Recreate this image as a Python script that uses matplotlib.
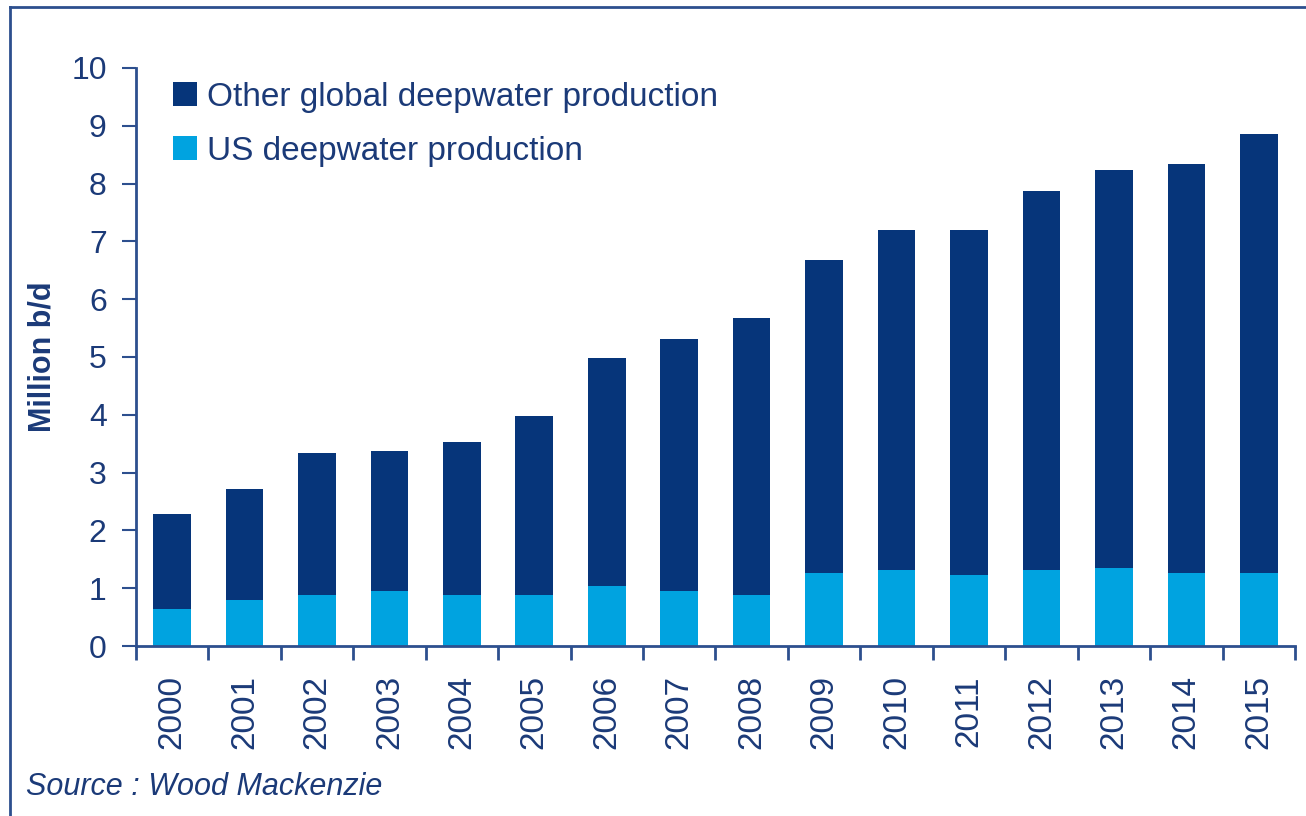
import matplotlib.pyplot as plt
from matplotlib.lines import Line2D
import numpy as np

years = ['2000', '2001', '2002', '2003', '2004', '2005', '2006', '2007',
         '2008', '2009', '2010', '2011', '2012', '2013', '2014', '2015']
us_prod = [0.64, 0.80, 0.88, 0.95, 0.88, 0.88, 1.04, 0.95,
           0.88, 1.26, 1.31, 1.23, 1.31, 1.35, 1.26, 1.26]
total_prod = [2.28, 2.72, 3.34, 3.37, 3.53, 3.98, 4.98, 5.31,
              5.67, 6.68, 7.20, 7.20, 7.87, 8.24, 8.34, 8.86]
other_prod = [t - u for t, u in zip(total_prod, us_prod)]

navy = '#06357a'
light = '#00a3e0'
text_col = '#1b3a78'
axis_col = '#2d4f8e'

plt.rcParams['font.family'] = ['Liberation Sans', 'DejaVu Sans']

fig = plt.figure(figsize=(13.06, 8.16), dpi=100)
ax = fig.add_axes([0.104, 0.2083, 0.8876, 0.7084])

x = np.arange(len(years))
ax.bar(x, us_prod, width=0.52, color=light, label='US deepwater production')
ax.bar(x, other_prod, width=0.52, bottom=us_prod, color=navy,
       label='Other global deepwater production')

ax.set_xlim(-0.5, len(years) - 0.5)
ax.set_ylim(0, 10)
ax.set_yticks(range(0, 11))
ax.set_xticks(x)
ax.set_xticklabels(years, rotation=90)
ax.set_xticks(np.arange(-0.5, len(years)), minor=True)
ax.tick_params(axis='x', which='major', length=0, pad=21, labelsize=24, labelcolor=text_col)
ax.tick_params(axis='x', which='minor', length=10, width=2, color=axis_col, direction='out')
ax.tick_params(axis='y', length=10, width=1.5, color=axis_col, pad=11, labelsize=23, labelcolor=text_col)

for side in ['top', 'right']:
    ax.spines[side].set_visible(False)
for side in ['left', 'bottom']:
    ax.spines[side].set_color(axis_col)
    ax.spines[side].set_linewidth(2)

ax.set_ylabel('Million b/d', fontsize=22, fontweight='bold', color=text_col, labelpad=10)

handles, labels = ax.get_legend_handles_labels()
leg = ax.legend(handles[::-1], labels[::-1], loc='upper left', bbox_to_anchor=(0.018, 1.005),
                frameon=False, fontsize=24, handlelength=0.7, handleheight=0.7,
                handletextpad=0.3, labelspacing=0.69, borderpad=0)
for t in leg.get_texts():
    t.set_color(text_col)

fig.text(0.02, 0.026, 'Source : Wood Mackenzie', fontsize=22, style='italic', color=text_col)

# outer frame (left and top edges visible in the picture)
fig.add_artist(Line2D([0.008, 0.008], [0.0, 0.9915], transform=fig.transFigure, color=axis_col, lw=2))
fig.add_artist(Line2D([0.008, 1.0], [0.9915, 0.9915], transform=fig.transFigure, color=axis_col, lw=2))

fig.savefig('out.png', dpi=100)
